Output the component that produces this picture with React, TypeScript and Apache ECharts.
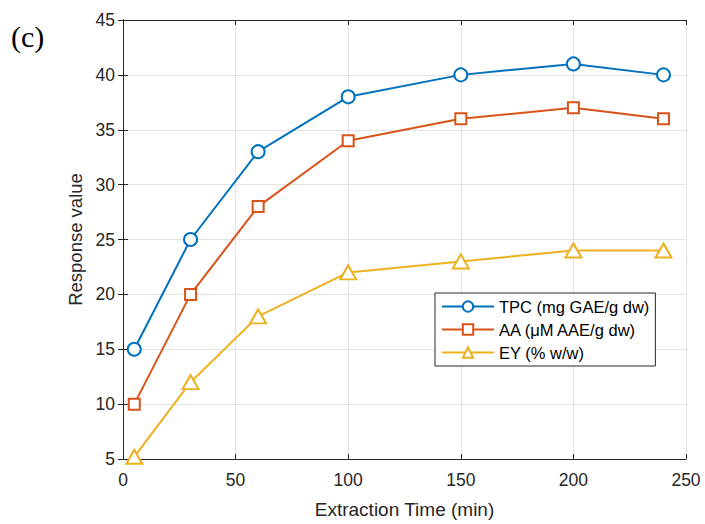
import React, { useEffect, useRef } from "react";
import * as echarts from "echarts";

const times = [5, 30, 60, 100, 150, 200, 240];
const tpc = [15, 25, 33, 38, 40, 41, 40];
const aa = [10, 20, 28, 34, 36, 37, 36];
const ey = [5.2, 12, 18, 22, 23, 24, 24];
const seriesNames = ["TPC (mg GAE/g dw)", "AA (μM AAE/g dw)", "EY (% w/w)"];
const colors = ["#0072BD", "#D95319", "#EDB120"];
const symbols = ["circle", "rect", "triangle"];

const FONT = "'Liberation Sans', Arial, Helvetica, sans-serif";
const AX = "#262626";

export default function App() {
  const ref = useRef<HTMLDivElement>(null);
  useEffect(() => {
    const chart = echarts.init(ref.current!, null, { renderer: "svg" });
    const datasets = [tpc, aa, ey];
    const axisCommon = {
      axisLine: { show: true, lineStyle: { color: AX, width: 1 } },
      axisTick: { show: true, inside: true, length: 5, lineStyle: { color: AX } },
    };
    chart.setOption({
      animation: false,
      backgroundColor: "#ffffff",
      textStyle: { fontFamily: FONT },
      grid: { left: 123, top: 20, width: 563, height: 442, containLabel: false },
      graphic: [
        {
          type: "text",
          left: 11,
          top: 21,
          style: { text: "(c)", font: "30px 'Liberation Serif', 'Times New Roman', serif", fill: "#000" },
        },
      ],
      legend: {
        orient: "vertical",
        left: 435,
        top: 293,
        data: seriesNames,
        backgroundColor: "#fff",
        borderColor: AX,
        borderWidth: 1,
        borderRadius: 0,
        padding: [5, 6, 5, 6],
        itemGap: 6,
        itemWidth: 52,
        itemHeight: 13,
        textStyle: { fontSize: 16.5, color: "#000", fontFamily: FONT },
      },
      xAxis: [
        {
          type: "value",
          min: 0,
          max: 250,
          interval: 50,
          position: "bottom",
          ...axisCommon,
          axisLabel: { fontSize: 17.5, color: AX, margin: 12, fontFamily: FONT },
          splitLine: { show: true, lineStyle: { color: "#e3e3e3", width: 1 } },
          name: "Extraction Time (min)",
          nameLocation: "middle",
          nameGap: 41,
          nameTextStyle: { fontSize: 19, color: AX, fontFamily: FONT },
        },
        {
          type: "value",
          min: 0,
          max: 250,
          interval: 50,
          position: "top",
          ...axisCommon,
          axisLabel: { show: false },
          splitLine: { show: false },
        },
      ],
      yAxis: [
        {
          type: "value",
          min: 5,
          max: 45,
          interval: 5,
          position: "left",
          ...axisCommon,
          axisLabel: { fontSize: 17.5, color: AX, margin: 8, fontFamily: FONT },
          splitLine: { show: true, lineStyle: { color: "#e3e3e3", width: 1 } },
          name: "Response value",
          nameLocation: "middle",
          nameGap: 37,
          nameTextStyle: { fontSize: 18.5, color: AX, fontFamily: FONT },
        },
        {
          type: "value",
          min: 5,
          max: 45,
          interval: 5,
          position: "right",
          ...axisCommon,
          axisLabel: { show: false },
          splitLine: { show: false },
        },
      ],
      series: datasets.map((d, i) => ({
        name: seriesNames[i],
        type: "line",
        xAxisIndex: 0,
        yAxisIndex: 0,
        data: times.map((t, j) => [t, d[j]]),
        symbol: symbols[i],
        symbolSize: i === 1 ? 11 : i === 2 ? [16, 14] : 13,
        showSymbol: true,
        lineStyle: { color: colors[i], width: 2 },
        itemStyle: { color: "#ffffff", borderColor: colors[i], borderWidth: 2 },
        color: colors[i],
      })),
    });
    return () => chart.dispose();
  }, []);
  return (
    <div
      ref={ref}
      style={{ position: "fixed", left: 0, top: 0, width: 705, height: 524 }}
    />
  );
}
